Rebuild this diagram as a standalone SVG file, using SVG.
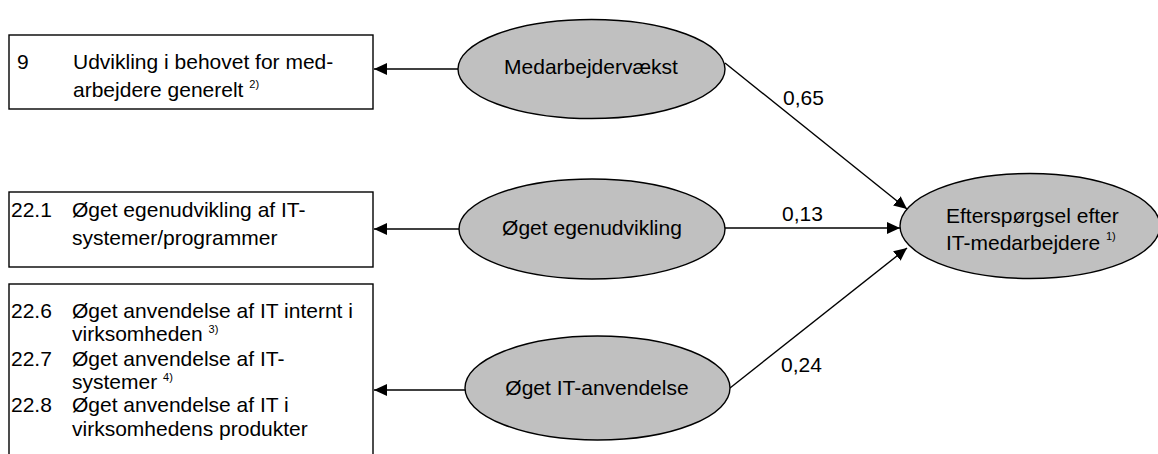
<svg xmlns="http://www.w3.org/2000/svg" width="1158" height="454" viewBox="0 0 1158 454">
<defs>
<marker id="ah" markerUnits="userSpaceOnUse" markerWidth="14" markerHeight="12" refX="13" refY="6" orient="auto">
<path d="M0,0 L13,6 L0,12 Z" fill="#000"/>
</marker>
<style>
text{font-family:"Liberation Sans",Arial,sans-serif;font-size:21px;fill:#000}
.sup{font-size:11px}
.box{fill:#fff;stroke:#000;stroke-width:1.4}
.ell{fill:#c0c0c0;stroke:#000;stroke-width:1.4}
.con{stroke:#000;stroke-width:1.4;fill:none;marker-end:url(#ah)}
.mid{text-anchor:middle}
</style>
</defs>
<rect width="1158" height="454" fill="#fff"/>

<g id="box-9">
<rect class="box" x="9" y="35" width="364" height="74"/>
<text x="17" y="69">9</text>
<text x="73" y="69">Udvikling i behovet for med-</text>
<text x="73" y="97">arbejdere generelt <tspan class="sup" dy="-9">2)</tspan></text>
</g>

<g id="box-22-1">
<rect class="box" x="9" y="192" width="364" height="75"/>
<text x="11" y="217">22.1</text>
<text x="72" y="217">Øget egenudvikling af IT-</text>
<text x="72" y="245">systemer/programmer</text>
</g>

<g id="box-22-6-8">
<rect class="box" x="9" y="284" width="364" height="190"/>
<text x="11" y="318">22.6</text>
<text x="72" y="318">Øget anvendelse af IT internt i</text>
<text x="72" y="341">virksomheden <tspan class="sup" dy="-8">3)</tspan></text>
<text x="11" y="366">22.7</text>
<text x="72" y="366">Øget anvendelse af IT-</text>
<text x="72" y="389">systemer <tspan class="sup" dy="-8">4)</tspan></text>
<text x="11" y="412">22.8</text>
<text x="72" y="412">Øget anvendelse af IT i</text>
<text x="72" y="436">virksomhedens produkter</text>
</g>

<g id="connectors">
<line class="con" x1="458" y1="69" x2="374" y2="69"/>
<line class="con" x1="459" y1="229" x2="374" y2="229"/>
<line class="con" x1="465" y1="390" x2="374" y2="390"/>
<line class="con" x1="725" y1="63" x2="907" y2="209"/>
<line class="con" x1="725" y1="228" x2="900" y2="228"/>
<line class="con" x1="730" y1="388" x2="907" y2="248"/>
<text x="783" y="105">0,65</text>
<text x="782" y="221">0,13</text>
<text x="781" y="372">0,24</text>
</g>

<g id="medarbejdervaekst">
<ellipse class="ell" cx="591.5" cy="69" rx="133.5" ry="49.5"/>
<text class="mid" x="591" y="74">Medarbejdervækst</text>
</g>

<g id="oget-egenudvikling">
<ellipse class="ell" cx="592" cy="229" rx="133" ry="50"/>
<text class="mid" x="592" y="235">Øget egenudvikling</text>
</g>

<g id="oget-it-anvendelse">
<ellipse class="ell" cx="597.5" cy="388" rx="132.5" ry="52"/>
<text class="mid" x="597" y="395">Øget IT-anvendelse</text>
</g>

<g id="efterspoergsel">
<ellipse class="ell" cx="1030" cy="226" rx="130" ry="52.5"/>
<text x="946" y="223">Efterspørgsel efter</text>
<text x="946" y="250">IT-medarbejdere <tspan class="sup" dy="-10">1)</tspan></text>
</g>
</svg>
